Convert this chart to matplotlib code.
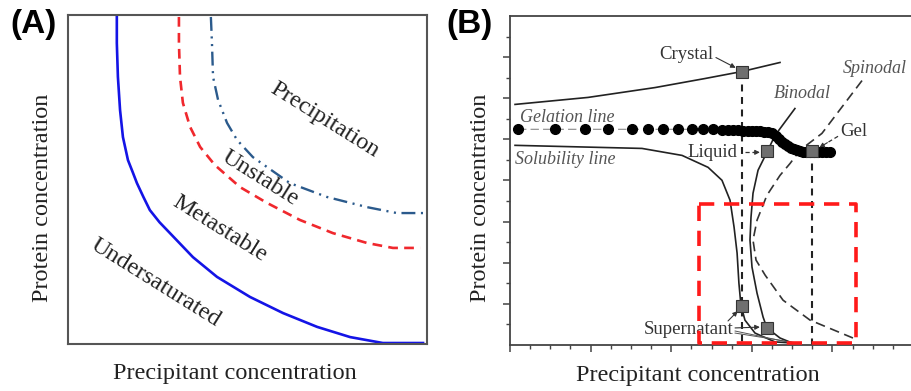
import matplotlib
matplotlib.use("Agg")
import matplotlib.pyplot as plt

plt.rcParams["font.family"] = "serif"
plt.rcParams["font.serif"] = ["Liberation Serif", "DejaVu Serif"]
plt.rcParams["lines.scale_dashes"] = False

# ── Panel A: phase boundaries (arbitrary units 0-100) ────────────────────────
sol_x = [13.6, 13.6, 13.9, 14.5, 15.3, 16.7, 18.0, 19.2, 21.0, 22.8, 25.5, 28.4, 34.8, 41.5,
         50.7, 59.9, 69.4, 78.6, 87.7, 98.9]
sol_y = [100, 91.5, 81.2, 71.1, 62.9, 55.9, 52.3, 48.9, 44.7, 40.7, 37.0, 33.7, 26.4, 20.4,
         14.3, 9.4, 5.2, 2.1, 0.3, 0.3]

meta_x = [30.9, 30.9, 31.2, 32.0, 34.0, 36.8, 40.9, 47.9, 55.4, 64.6, 73.8, 83.3, 90.5, 98.1]
meta_y = [99.4, 91.5, 81.2, 73.3, 66.0, 59.9, 54.4, 47.7, 42.9, 37.7, 33.7, 30.7, 29.2, 29.2]

unst_x = [39.8, 40.1, 40.4, 41.8, 44.3, 47.1, 51.5, 61.8, 72.1, 83.3, 91.6, 100]
unst_y = [99.4, 91.5, 81.2, 74.2, 67.2, 62.0, 56.8, 48.9, 44.7, 41.6, 39.8, 39.8]

region_labels = ["Precipitation", "Unstable", "Metastable", "Undersaturated"]
region_pos = [(71.5, 68.1), (53.5, 50.5), (42.3, 35.0), (24.5, 18.5)]

# ── Panel B: measured phase diagram (minor-tick units) ───────────────────────
crys_x = [0.25, 3.87, 7.2, 9.68, 11.51, 13.4]
crys_y = [11.7, 12.04, 12.52, 12.96, 13.3, 13.74]

solub_x = [0.25, 6.55, 8.54, 9.83, 10.52, 10.92, 11.12, 11.27, 11.36, 11.46, 11.66, 12.16, 13.15, 14.0]
solub_y = [9.71, 9.56, 9.22, 8.64, 8.01, 7.04, 5.73, 4.47, 3.01, 1.94, 1.21, 0.58, 0.15, 0.1]

bino_x = [14.14, 13.15, 12.75, 12.31, 12.06, 11.96, 11.91, 12.01, 12.26, 12.56, 12.75, 13.4, 14.0]
bino_y = [11.5, 10.19, 9.37, 8.5, 7.38, 6.21, 5.1, 3.79, 2.52, 1.36, 0.83, 0.34, 0.1]

spino_x = [17.47, 15.48, 14.39, 13.9, 13.4, 12.75, 12.26, 12.06, 12.21, 12.66, 13.55, 14.89, 17.02]
spino_y = [12.86, 10.29, 9.47, 8.83, 8.25, 7.28, 6.07, 5.1, 4.13, 3.4, 2.18, 1.21, 0.34]

gel_x = [0.4, 2.23, 3.72, 4.86, 6.05, 6.85, 7.59, 8.34, 9.03, 9.58, 10.07,
         10.52, 10.81, 11.07, 11.32, 11.56, 11.81, 12.01, 12.21, 12.41, 12.61,
         12.8, 13.0, 13.2, 13.35, 13.5, 13.65, 13.8, 13.95, 14.09, 14.24,
         14.39, 14.54, 14.69, 14.89, 15.09, 15.29, 15.48, 15.68, 15.88]
gel_y = [10.49] * 11 + [10.47, 10.46, 10.45, 10.44, 10.43, 10.42, 10.41, 10.4, 10.39, 10.38,
                        10.36, 10.3, 10.15, 10.0, 9.88, 9.77, 9.67, 9.58, 9.52, 9.47,
                        9.43, 9.4, 9.38, 9.37, 9.37, 9.37, 9.37, 9.37, 9.37]

# sample points: crystal, liquid, gel, supernatant 1, supernatant 2
pts_x = [11.51, 12.75, 14.99, 11.5, 12.75]
pts_y = [13.3, 9.42, 9.42, 1.9, 0.83]

box_x = [9.38, 17.17]
box_y = [0.1, 6.84]

fig = plt.figure(figsize=(9.11, 3.91), dpi=100)

# ── (A) ──────────────────────────────────────────────────────────────────────
axA = fig.add_axes([68 / 911, 47 / 391, 359 / 911, 329 / 391])
axA.plot(sol_x, sol_y, color="#1414e6", lw=1.9)
axA.plot(meta_x, meta_y, color="#f0282d", lw=1.9, dashes=(7, 4.5))
axA.plot(unst_x, unst_y, color="#2b5a8c", lw=1.7, dashes=(10, 4, 1.5, 4, 1.5, 4))
axA.set_xlim(0, 100)
axA.set_ylim(0, 100)
axA.set_xticks([])
axA.set_yticks([])
for s in axA.spines.values():
    s.set_color("#555555")
    s.set_linewidth(1.5)
for lab, (px, py) in zip(region_labels, region_pos):
    axA.text(px, py, lab, rotation=-32, ha="center", va="center",
             fontsize=17.5, color="#222222", rotation_mode="anchor")

fig.text(43 / 911, 1 - 198 / 391, "Protein concentration", rotation=90,
         ha="center", va="center", fontsize=17.5, color="#222222")
fig.text(235 / 911, 1 - 373 / 391, "Precipitant concentration",
         ha="center", va="center", fontsize=17.5, color="#222222")
fig.text(10 / 911, 1 - 24 / 391, "(A)", ha="left", va="center",
         fontsize=24, fontweight="bold", family="Liberation Sans")

# ── (B) ──────────────────────────────────────────────────────────────────────
axB = fig.add_axes([510 / 911, 46 / 391, 401 / 911, 329 / 391])
axB.set_xlim(0, 401 / 20.15)
axB.set_ylim(0, 16)
axB.spines["right"].set_visible(False)
for s in ("left", "bottom", "top"):
    axB.spines[s].set_color("#444444")
    axB.spines[s].set_linewidth(1.3)
axB.set_xticks([0, 4, 8, 12, 16])
axB.set_xticks(range(0, 20), minor=True)
axB.set_yticks([2, 4, 6, 8, 10, 12, 14])
axB.set_yticks(range(1, 16), minor=True)
axB.tick_params(which="major", direction="out", length=5, width=1.1, color="#444444",
                labelbottom=False, labelleft=False)
axB.tick_params(which="minor", direction="out", length=3, width=1.0, color="#444444")

axB.plot(crys_x, crys_y, color="#222222", lw=1.2)
axB.plot(solub_x, solub_y, color="#222222", lw=1.2)
axB.plot(bino_x, bino_y, color="#222222", lw=1.2)
axB.plot(spino_x, spino_y, color="#333333", lw=1.2, dashes=(7, 4))

# drop lines from crystal and gel points
axB.plot([pts_x[0], pts_x[0]], [pts_y[0], 0], color="#222222", lw=1.5, dashes=(5, 4))
axB.plot([pts_x[2], pts_x[2]], [pts_y[2], 0], color="#222222", lw=1.5, dashes=(5, 4))

# gelation line
axB.plot(gel_x, gel_y, color="#888888", lw=0.8, dashes=(6, 3), zorder=3)
axB.plot(gel_x, gel_y, "o", color="black", ms=7, zorder=4)

axB.plot(pts_x, pts_y, "s", ms=8, mfc="#6f6f6f", mec="#333333", mew=0.8, zorder=5)

# red dashed highlight box
axB.plot([box_x[0], box_x[1], box_x[1], box_x[0], box_x[0]],
         [box_y[1], box_y[1], box_y[0], box_y[0], box_y[1]],
         color="#ff1a1a", lw=2.6, dashes=(11, 7), clip_on=False, zorder=6)

txt = dict(fontsize=13.5, color="#333333")
axB.text(10.07, 14.13, "Crystal", ha="right", va="center", **txt)
axB.text(11.27, 9.37, "Liquid", ha="right", va="center", **txt)
axB.text(16.38, 10.39, "Gel", ha="left", va="center", **txt)
axB.text(11.07, 0.73, "Supernatant", ha="right", va="center", **txt)
itx = dict(fontsize=13, color="#555555", style="italic")
axB.text(0.5, 11.07, "Gelation line", ha="left", va="center", **itx)
axB.text(0.25, 9.03, "Solubility line", ha="left", va="center", **itx)
axB.text(14.49, 12.23, "Binodal", ha="center", va="center", **itx)
axB.text(18.11, 13.45, "Spinodal", ha="center", va="center", **itx)

arw = dict(arrowstyle="-|>", lw=0.8, color="#333333", mutation_scale=7,
           shrinkA=0, shrinkB=0)
axB.annotate("", xy=(11.2, 13.48), xytext=(10.22, 13.98), arrowprops=arw)
axB.plot([11.66, 12.1], [9.37, 9.37], color="#333333", lw=0.9, dashes=(3, 2))
axB.annotate("", xy=(12.4, 9.37), xytext=(12.1, 9.37), arrowprops=arw)
axB.plot([16.28, 15.75], [10.15, 9.84], color="#333333", lw=0.9, dashes=(3, 2))
axB.annotate("", xy=(15.35, 9.6), xytext=(15.75, 9.84), arrowprops=arw)
axB.annotate("", xy=(11.3, 1.65), xytext=(10.82, 1.17), arrowprops=arw)
axB.annotate("", xy=(12.4, 0.87), xytext=(11.17, 0.83), arrowprops=arw)
axB.plot([11.17, 13.75], [0.68, 0.15], color="#555555", lw=0.7)
axB.plot([11.17, 14.24], [0.58, 0.1], color="#555555", lw=0.7)

fig.text(480 / 911, 1 - 198 / 391, "Protein concentration", rotation=90,
         ha="center", va="center", fontsize=17.5, color="#222222")
fig.text(698 / 911, 1 - 375 / 391, "Precipitant concentration",
         ha="center", va="center", fontsize=17.5, color="#222222")
fig.text(446 / 911, 1 - 24 / 391, "(B)", ha="left", va="center",
         fontsize=24, fontweight="bold", family="Liberation Sans")

fig.savefig("out.png", dpi=100)
